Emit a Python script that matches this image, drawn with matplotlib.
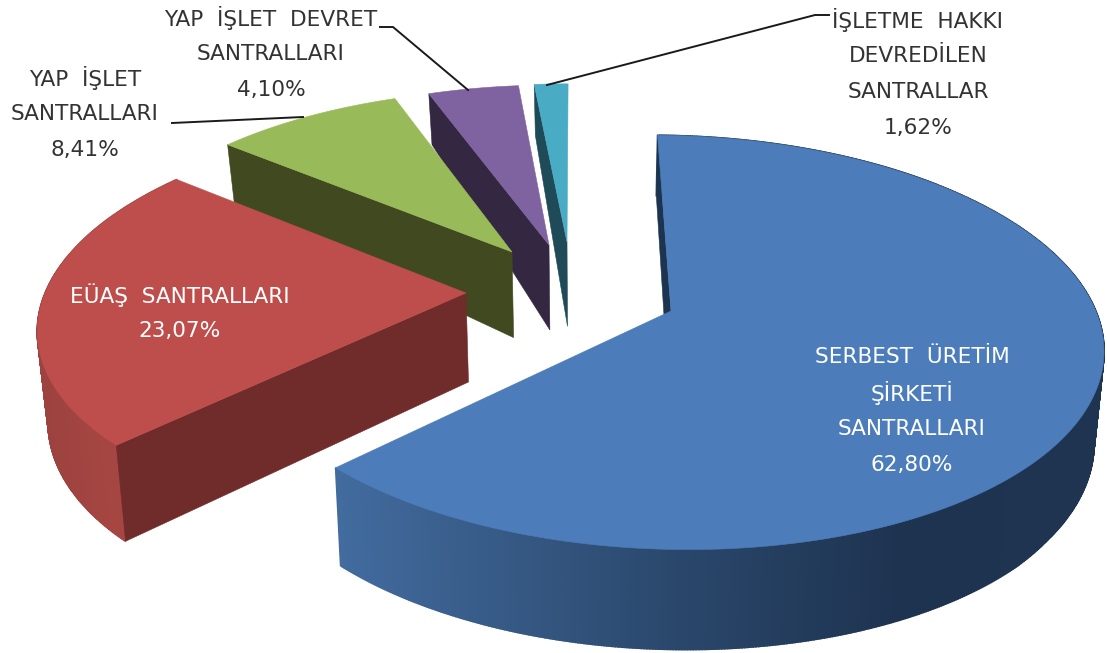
import numpy as np
import matplotlib
matplotlib.use("Agg")
import matplotlib.pyplot as plt

# ---- data ----
names = [
    ["SERBEST  ÜRETİM", "ŞİRKETİ", "SANTRALLARI"],
    ["EÜAŞ  SANTRALLARI"],
    ["YAP  İŞLET", "SANTRALLARI"],
    ["YAP  İŞLET  DEVRET", "SANTRALLARI"],
    ["İŞLETME  HAKKI", "DEVREDİLEN", "SANTRALLAR"],
]
values = [62.80, 23.07, 8.41, 4.10, 1.62]
value_labels = ["62,80%", "23,07%", "8,41%", "4,10%", "1,62%"]

# ---- style / layout ----
START_ANGLE = -3.0
top_colors = ["#4c7dba", "#bd4e4b", "#99ba58", "#7f63a1", "#4aabc5"]
cut_colors = ["#1d3450", "#702c2b", "#40491f", "#342742", "#1e4b57"]
# explode position (apex px) and projection of each exploded slice
apex_px = [(671, 311), (466, 293), (512, 252), (549, 245), (567, 242)]
proj_sx = [429, 417, 404, 399, 377]
proj_a = [7, 42, 33, 27, 21]
proj_sy = [202, 196, 184, 181, 179]
proj_b = [-12, -8.5, -9, -10, -10]
proj_k = [0.152, 0.134, 0.134, 0.134, 0.134]
VANISH_X, VANISH_C = 593, 0.0195
depth_y = [94, 245, 293, 445, 468, 550]
depth_d = [51, 85, 89, 96, 98, 100]
wall_x = [[338, 680, 900, 1110], [35, 125, 300, 1110]]
wall_rgb = [
    [(0x42, 0x6b, 0x9e), (0x2a, 0x47, 0x6b), (0x1e, 0x33, 0x50), (0x1f, 0x34, 0x50)],
    [(0x9c, 0x42, 0x3f), (0xa8, 0x47, 0x43), (0xa8, 0x47, 0x43), (0xa8, 0x47, 0x43)],
]
label_pos = [(912, 357, "white"), (180, 295, "white"), (85, 78, "#333333"),
             (271, 18, "#333333"), (918, 20, "#333333")]
LINE_STEP = 36
leaders = [None, None,
           ([172, 303], [123, 117]),
           ([380, 393, 468], [27, 27, 90]),
           ([547, 815, 829], [85, 15, 15])]

fig = plt.figure(figsize=(11.07, 6.53), dpi=100)
ax = fig.add_axes([0, 0, 1, 1])
ax.set_xlim(0, 1107)
ax.set_ylim(653, 0)
ax.axis("off")


def rim(i, theta):
    t = np.radians(theta)
    u, v = np.sin(t), np.cos(t)
    w = 1 + proj_k[i] * v
    x = apex_px[i][0] + (proj_sx[i] * u + proj_a[i] * v) / w
    y = apex_px[i][1] - (proj_sy[i] * v + proj_b[i] * u) / w
    return x, y


def lower(x, y):
    x, y = np.asarray(x, float), np.asarray(y, float)
    return x + (VANISH_X - x) * VANISH_C, y + np.interp(y, depth_y, depth_d)


def wall_colour(i, x):
    rgb = [np.interp(x, wall_x[i], [c[k] for c in wall_rgb[i]]) for k in range(3)]
    return tuple(c / 255 for c in rgb)


total = sum(values)
edges = START_ANGLE + np.cumsum([0] + values) / total * 360
for i in range(len(values) - 1, -1, -1):
    t0, t1 = edges[i], edges[i + 1]
    th = np.linspace(t0, t1, max(int((t1 - t0) * 3), 8))
    rx, ry = rim(i, th)
    bx, by = lower(rx, ry)
    ax_, ay_ = apex_px[i]
    abx, aby = lower(ax_, ay_)
    # outer wall, strip by strip for the gradient (only the two front slices show one)
    if i < 2:
        for j in range(len(th) - 1):
            ax.fill([rx[j], rx[j + 1], bx[j + 1], bx[j]], [ry[j], ry[j + 1], by[j + 1], by[j]],
                    color=wall_colour(i, (rx[j] + rx[j + 1]) / 2), lw=1.2, zorder=1 + (4 - i) * 3)
    # radial cut wall at the start edge
    ax.fill([rx[0], ax_, abx, bx[0]], [ry[0], ay_, aby, by[0]],
            color=cut_colors[i], lw=0.4, zorder=2 + (4 - i) * 3)
    # top surface
    ax.fill(np.r_[ax_, rx], np.r_[ay_, ry], color=top_colors[i], lw=0.4, zorder=3 + (4 - i) * 3)

for i in range(len(values)):
    if leaders[i]:
        ax.plot(leaders[i][0], leaders[i][1], color="#1a1a1a", lw=1.4, zorder=20)
    cx, cy, col = label_pos[i]
    for n, line in enumerate(names[i] + [value_labels[i]]):
        ax.text(cx, cy + n * LINE_STEP, line, ha="center", va="center", color=col,
                fontsize=15.6, family="DejaVu Sans", zorder=30)

fig.savefig("out.png", dpi=100)
